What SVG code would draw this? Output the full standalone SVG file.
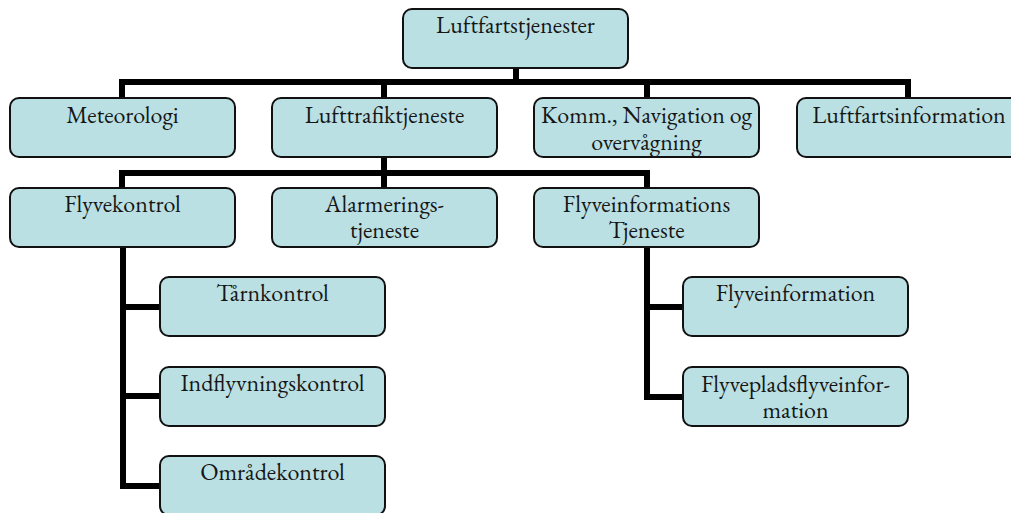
<svg xmlns="http://www.w3.org/2000/svg" width="1011" height="513" viewBox="0 0 1011 513">
<style>
.box{fill:#bae0e3;stroke:#111;stroke-width:2}
.c{fill:none;stroke:#000;stroke-width:6;stroke-linejoin:miter}
</style>
<rect width="1011" height="513" fill="#fff"/>
<g id="connectors">
<path class="c" d="M516 68V82M122 98V82H908V98M384 82V98M647 82V98"/>
<path class="c" d="M384 158V173M122 188V173H647V188M384 173V188"/>
<path class="c" d="M123 247V486H160M123 307H160M123 396H160"/>
<path class="c" d="M647 247V397H683M647 307H683"/>
</g>
<g id="nodes" font-family="EB Garamond, Liberation Serif, serif" font-size="24" fill="#161616" text-anchor="middle">
<g id="n-root"><rect class="box" x="403" y="9" width="225" height="59" rx="9"/><text x="515.5" y="33">Luftfartstjenester</text></g>
<g id="n-met"><rect class="box" x="10" y="98" width="225" height="59" rx="9"/><text x="122.5" y="123">Meteorologi</text></g>
<g id="n-luft"><rect class="box" x="272" y="98" width="225" height="59" rx="9"/><text x="384.5" y="123">Lufttrafiktjeneste</text></g>
<g id="n-komm"><rect class="box" x="534" y="98" width="225" height="59" rx="9"/><text x="646.5" y="123">Komm., Navigation og</text><text x="646.5" y="150">overvågning</text></g>
<g id="n-info"><rect class="box" x="797" y="98" width="225" height="59" rx="9"/><text x="909" y="123">Luftfartsinformation</text></g>
<g id="n-flyk"><rect class="box" x="10" y="188" width="225" height="59" rx="9"/><text x="122.5" y="212">Flyvekontrol</text></g>
<g id="n-alarm"><rect class="box" x="272" y="188" width="225" height="59" rx="9"/><text x="384.5" y="212">Alarmerings-</text><text x="384.5" y="238">tjeneste</text></g>
<g id="n-fit"><rect class="box" x="534" y="188" width="225" height="59" rx="9"/><text x="646.5" y="212">Flyveinformations</text><text x="646.5" y="238">Tjeneste</text></g>
<g id="n-taarn"><rect class="box" x="160" y="277" width="225" height="59" rx="9"/><text x="272.5" y="301">Tårnkontrol</text></g>
<g id="n-indfl"><rect class="box" x="160" y="367" width="225" height="59" rx="9"/><text x="272.5" y="391">Indflyvningskontrol</text></g>
<g id="n-omr"><rect class="box" x="160" y="456" width="225" height="59" rx="9"/><text x="272.5" y="480">Områdekontrol</text></g>
<g id="n-fi"><rect class="box" x="683" y="277" width="225" height="59" rx="9"/><text x="795.5" y="301">Flyveinformation</text></g>
<g id="n-fpfi"><rect class="box" x="683" y="367" width="225" height="59" rx="9"/><text x="795.5" y="392">Flyvepladsflyveinfor-</text><text x="795.5" y="418">mation</text></g>
</g>
</svg>
